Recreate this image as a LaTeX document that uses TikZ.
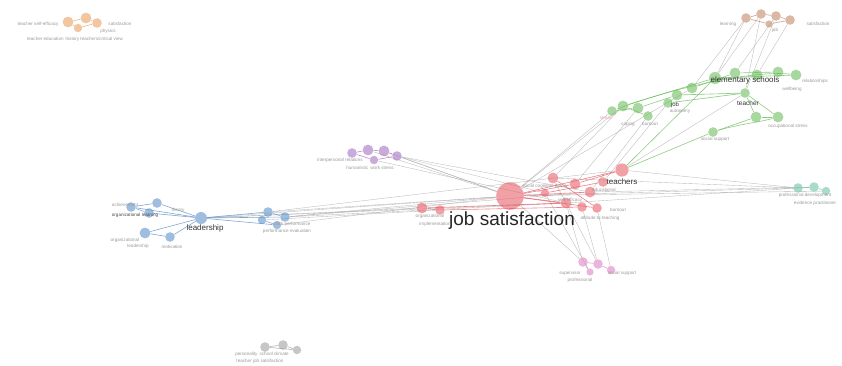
\documentclass[tikz,border=0pt]{standalone}
\usepackage{fontspec}
\setmainfont{Liberation Sans}
\usetikzlibrary{backgrounds}
\definecolor{cred}{RGB}{232,96,106}
\definecolor{cgreen}{RGB}{110,190,95}
\definecolor{cblue}{RGB}{95,145,200}
\definecolor{cpurple}{RGB}{165,115,195}
\definecolor{corange}{RGB}{235,160,100}
\definecolor{cbrown}{RGB}{195,135,105}
\definecolor{cpink}{RGB}{225,130,195}
\definecolor{cteal}{RGB}{110,195,170}
\definecolor{cgrey}{RGB}{160,160,160}
\tikzset{
  bub/.style={circle, inner sep=0pt, fill=#1, fill opacity=0.6, draw=none},
  ms/.style={minimum size=1.2*#1pt},
  lab/.style={font=\fontsize{4.6}{5}\selectfont, text=black!40, inner sep=0pt},
  bigl/.style={font=\fontsize{8}{9}\selectfont, text=black!80, inner sep=0pt},
  edge/.style={draw=black!35, line width=0.35pt, opacity=0.8},
  cedge/.style={draw=#1, line width=0.6pt, opacity=0.8},
}
\begin{document}
\begin{tikzpicture}[x=1pt,y=-1pt]
\useasboundingbox (0,0) rectangle (842,365);
% red
\node[bub=cred,ms=23] (R0) at (510,196) {};
\node[bub=cred,ms=9] (R1) at (553,178) {};
\node[bub=cred,ms=9] (R2) at (575,184) {};
\node[bub=cred,ms=9] (R3) at (590,192) {};
\node[bub=cred,ms=8] (R4) at (603,182) {};
\node[bub=cred,ms=9] (R5) at (566,203) {};
\node[bub=cred,ms=8] (R6) at (582,207) {};
\node[bub=cred,ms=8] (R7) at (597,208) {};
\node[bub=cred,ms=11] (R8) at (622,170) {};
\node[bub=cred,ms=9] (R9) at (422,208) {};
\node[bub=cred,ms=8] (R10) at (440,210) {};
\node[bub=cred,ms=7] (R11) at (545,193) {};
% green
\node[bub=cgreen,ms=10] (G1) at (715,78) {};
\node[bub=cgreen,ms=9] (G2) at (735,73) {};
\node[bub=cgreen,ms=9] (G3) at (757,75) {};
\node[bub=cgreen,ms=9] (G4) at (778,72) {};
\node[bub=cgreen,ms=9] (G5) at (796,75) {};
\node[bub=cgreen,ms=9] (G6) at (692,88) {};
\node[bub=cgreen,ms=9] (G7) at (677,95) {};
\node[bub=cgreen,ms=8] (G8) at (668,103) {};
\node[bub=cgreen,ms=9] (G9) at (623,106) {};
\node[bub=cgreen,ms=8] (G10) at (612,111) {};
\node[bub=cgreen,ms=9] (G11) at (638,108) {};
\node[bub=cgreen,ms=8] (G12) at (648,116) {};
\node[bub=cgreen,ms=8] (G13) at (745,93) {};
\node[bub=cgreen,ms=9] (G14) at (756,117) {};
\node[bub=cgreen,ms=9] (G15) at (778,117) {};
\node[bub=cgreen,ms=8] (G16) at (713,132) {};
% brown
\node[bub=cbrown,ms=8] (B1) at (746,18) {};
\node[bub=cbrown,ms=8] (B2) at (761,14) {};
\node[bub=cbrown,ms=8] (B3) at (776,16) {};
\node[bub=cbrown,ms=8] (B4) at (790,20) {};
\node[bub=cbrown,ms=6] (B5) at (769,24) {};
% orange
\node[bub=corange,ms=9] (O1) at (68,22) {};
\node[bub=corange,ms=9] (O2) at (86,18) {};
\node[bub=corange,ms=8] (O3) at (97,23) {};
\node[bub=corange,ms=7] (O4) at (78,28) {};
% purple
\node[bub=cpurple,ms=8] (P1) at (352,153) {};
\node[bub=cpurple,ms=9] (P2) at (368,150) {};
\node[bub=cpurple,ms=9] (P3) at (384,151) {};
\node[bub=cpurple,ms=8] (P4) at (397,156) {};
\node[bub=cpurple,ms=7] (P5) at (374,160) {};
% blue
\node[bub=cblue,ms=8] (L1) at (131,207) {};
\node[bub=cblue,ms=8] (L2) at (157,203) {};
\node[bub=cblue,ms=8] (L3) at (149,213) {};
\node[bub=cblue,ms=10] (L4) at (201,218) {};
\node[bub=cblue,ms=9] (L5) at (145,233) {};
\node[bub=cblue,ms=8] (L6) at (170,237) {};
\node[bub=cblue,ms=8] (L7) at (268,212) {};
\node[bub=cblue,ms=8] (L8) at (285,217) {};
\node[bub=cblue,ms=7] (L9) at (262,220) {};
\node[bub=cblue,ms=7] (L10) at (277,225) {};
% pink
\node[bub=cpink,ms=8] (K1) at (583,262) {};
\node[bub=cpink,ms=8] (K2) at (598,264) {};
\node[bub=cpink,ms=7] (K3) at (611,270) {};
\node[bub=cpink,ms=6] (K4) at (590,272) {};
% teal
\node[bub=cteal,ms=8] (T1) at (798,188) {};
\node[bub=cteal,ms=8] (T2) at (814,187) {};
\node[bub=cteal,ms=7] (T3) at (826,191) {};
% grey
\node[bub=cgrey,ms=8] (Y1) at (265,347) {};
\node[bub=cgrey,ms=8] (Y2) at (283,345) {};
\node[bub=cgrey,ms=7] (Y3) at (297,350) {};

\begin{scope}[on background layer]
\foreach \a/\b in {L4/R0,L4/R9,L7/R0,L8/R0,L8/R5,L7/R8,L8/R3,L9/R10,L10/R0,L4/R5,
  T1/R8,T1/R0,T2/R3,T2/R5,T3/R0,T1/R1,
  P3/R0,P4/R0,P4/R11,P5/R5,P2/R0,P4/R3,
  G9/R1,G10/R0,G11/R2,G12/R3,G9/R0,G8/R4,G6/R0,G13/R8,
  B1/G1,B2/G1,B3/G2,B4/G3,B1/G6,B2/G13,B3/G13,
  K1/R5,K1/R0,K2/R6,K2/R1,K3/R7,K4/R11}
  \draw[edge] (\a) -- (\b);
\foreach \a/\b in {R0/R8,R0/R3,R0/R5,R0/R2,R9/R5,R10/R6,R1/R7,R11/R4,R0/R7,R9/R10,R2/R8}
  \draw[cedge=cred] (\a) -- (\b);
\foreach \a/\b in {G9/G1,G7/G13,G13/G14,G13/G15,G16/G14,G8/G13,G6/G2,G1/G5,G2/G4,G10/G11,G9/G12,G11/G7,G14/G15}
  \draw[cedge=cgreen] (\a) -- (\b);
\draw[cedge=cgreen] (G10) .. controls (680,85) and (760,70) .. (G5);
\draw[cedge=cgreen] (R8) -- (G16);
\draw[cedge=cgreen] (R8) -- (G1);
\draw[cedge=cgreen] (G16) .. controls (735,125) and (760,122) .. (G15);
\foreach \a/\b in {L1/L2,L2/L4,L3/L4,L5/L4,L6/L4,L4/L7,L4/L8,L1/L3,L5/L6,L1/L4,L7/L8,L9/L10,L4/L10}
  \draw[cedge=cblue] (\a) -- (\b);
\foreach \a/\b in {P1/P2,P2/P3,P3/P4,P1/P5,P5/P4}
  \draw[cedge=cpurple] (\a) -- (\b);
\foreach \a/\b in {B1/B2,B2/B3,B3/B4,B1/B5,B5/B4}
  \draw[cedge=cbrown] (\a) -- (\b);
\foreach \a/\b in {O1/O2,O2/O3,O1/O4,O4/O3}
  \draw[cedge=corange] (\a) -- (\b);
\foreach \a/\b in {K1/K2,K2/K3,K1/K4}
  \draw[cedge=cpink] (\a) -- (\b);
\foreach \a/\b in {T1/T2,T2/T3}
  \draw[cedge=cteal] (\a) -- (\b);
\foreach \a/\b in {Y1/Y2,Y2/Y3,Y1/Y3}
  \draw[cedge=cgrey] (\a) -- (\b);
\end{scope}

% labels
\node[font=\fontsize{19}{21}\selectfont, text=black!85, inner sep=0pt] (t0) at (512,221) {job satisfaction};
\node[bigl] (t1) at (622,182) {teachers};
\node[bigl] (t2) at (745,80) {elementary schools};
\node[bigl,font=\fontsize{6.5}{7}\selectfont] (t3) at (748,103) {teacher};
\node[bigl,font=\fontsize{6}{7}\selectfont] (t4) at (675,105) {job};
\node[bigl] (t5) at (205,228) {leadership};
\node[lab] (a1) at (545,186) {social cognitive theory};
\node[lab] (a2) at (604,190) {educational};
\node[lab] (a3) at (570,200) {self-efficacy};
\node[lab] (a4) at (618,210) {burnout};
\node[lab] (a5) at (600,218) {attitude to teaching};
\node[lab] (a6) at (430,216) {organizational};
\node[lab] (a7) at (435,224) {implementation};
\node[lab] (b1) at (728,24) {learning};
\node[lab] (b2) at (818,24) {satisfaction};
\node[lab] (b3) at (775,30) {job};
\node[lab] (c1) at (38,24) {teacher self-efficacy};
\node[lab] (c2) at (120,24) {satisfaction};
\node[lab] (c3) at (108,31) {physics};
\node[lab] (c4) at (75,39) {teacher education \,history teachers/critical view};
\node[lab] (g1) at (815,81) {relationships};
\node[lab] (g2) at (792,89) {wellbeing};
\node[lab] (g3) at (788,126) {occupational stress};
\node[lab] (g4) at (715,139) {social support};
\node[lab,text=cred!60] (g5) at (606,118) {stress};
\node[lab] (g6) at (628,124) {coping};
\node[lab] (g7) at (650,124) {burnout};
\node[lab] (g8) at (680,111) {autonomy};
\node[lab] (p1) at (340,160) {interpersonal relations};
\node[lab] (p2) at (370,168) {humanistic \,work stress};
\node[lab] (l1) at (125,205) {achievement};
\node[lab] (l2) at (178,210) {theory};
\node[lab,text=black!70] (l3) at (135,215) {organizational learning};
\node[lab] (l4) at (125,240) {organizational};
\node[lab] (l5) at (138,246) {leadership};
\node[lab] (l6) at (172,247) {motivation};
\node[lab] (l7) at (292,224) {work performance};
\node[lab] (l8) at (287,231) {performance evaluation};
\node[lab] (k1) at (570,273) {supervisor};
\node[lab] (k2) at (580,280) {professional};
\node[lab] (k3) at (622,273) {social support};
\node[lab] (e1) at (805,195) {professional development};
\node[lab] (e2) at (815,203) {evidence practitioner};
\node[lab] (y1) at (262,354) {personality \,school climate};
\node[lab] (y2) at (260,361) {teacher job satisfaction};
\end{tikzpicture}
\end{document}
